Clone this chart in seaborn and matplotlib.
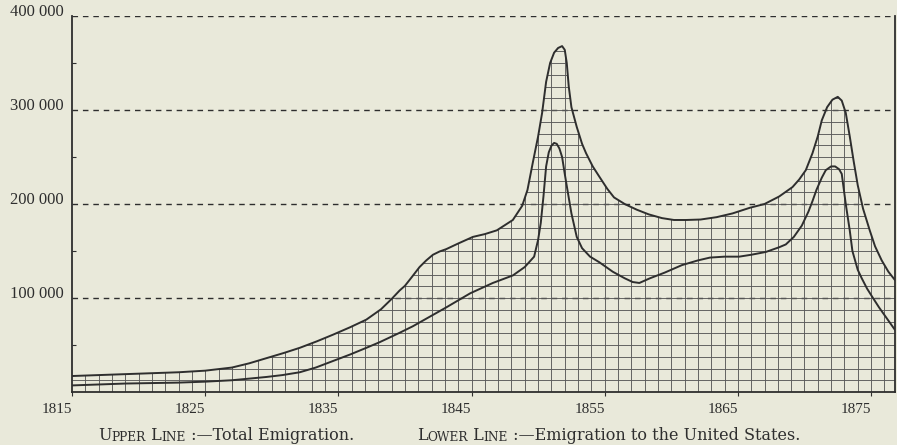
import numpy as np
import pandas as pd
import matplotlib
matplotlib.use("Agg")
import matplotlib.pyplot as plt
from matplotlib.patches import Polygon
import seaborn as sns

# ---- data -------------------------------------------------------------
total_years = [1815, 1817, 1819, 1821, 1823, 1825, 1827, 1828.3, 1829.6,
               1830.9, 1832.1, 1833.4, 1834.6, 1835.9, 1837.1, 1838.2,
               1839.0, 1839.6, 1840.0, 1840.5, 1841.1, 1841.6, 1842.1,
               1842.6, 1843.1, 1844.0, 1845.1, 1846.0, 1846.9, 1848.1,
               1848.8, 1849.2, 1849.6, 1850.0, 1850.3, 1850.6, 1850.9,
               1851.2, 1851.5, 1851.8, 1852.0, 1852.15, 1852.3, 1852.5,
               1852.9, 1853.3, 1853.6, 1854.1, 1854.6, 1855.2, 1855.7,
               1856.5, 1857.4, 1858.3, 1859.3, 1860.2, 1861.1, 1862.2,
               1863.4, 1864.6, 1865.9, 1867.0, 1868.1, 1869.1, 1869.6,
               1870.1, 1870.6, 1871.0, 1871.3, 1871.7, 1872.1, 1872.5,
               1872.8, 1873.1, 1873.4, 1873.7, 1874.0, 1874.4, 1874.9,
               1875.3, 1875.8, 1876.3, 1876.8]
total_emigration = [17000, 18000, 19000, 20000, 21000, 22700, 26000, 30500,
                    36000, 41500, 47000, 54000, 61000, 69000, 77000, 88000,
                    99000, 108000, 113000, 122000, 133000, 140000, 146000,
                    149500, 152000, 158000, 165000, 168000, 172000, 183000,
                    198000, 215000, 244000, 272000, 297000, 330000, 350000,
                    361000, 366000, 368000, 364000, 350000, 325000, 303000,
                    282000, 264000, 254000, 240000, 229000, 216000, 207000,
                    200000, 194000, 189000, 185000, 183000, 183000, 183500,
                    186000, 190000, 196000, 200000, 208000, 218000, 226000,
                    236000, 254000, 272000, 289000, 303000, 311000, 314000,
                    310000, 297000, 272000, 245000, 220000, 195000, 172000,
                    155000, 140000, 128000, 119000]

us_years = [1815, 1817, 1819, 1821, 1823, 1825, 1827, 1828.5, 1829.6, 1830.8,
            1832.1, 1833.3, 1834.6, 1835.9, 1837.1, 1838.1, 1839.6, 1840.6,
            1842.1, 1843.1, 1844.9, 1846.6, 1848.1, 1849.0, 1849.7, 1850.0,
            1850.2, 1850.4, 1850.6, 1850.8, 1851.0, 1851.2, 1851.4, 1851.6,
            1851.8, 1852.0, 1852.2, 1852.5, 1852.9, 1853.3, 1853.9, 1854.6,
            1855.6, 1856.5, 1857.1, 1857.6, 1858.4, 1859.5, 1860.8, 1862.0,
            1862.9, 1864.0, 1865.1, 1866.0, 1867.1, 1868.1, 1868.6, 1869.2,
            1869.8, 1870.3, 1870.6, 1870.9, 1871.3, 1871.6, 1872.0, 1872.3,
            1872.6, 1872.8, 1873.1, 1873.4, 1873.6, 1874.0, 1874.3, 1874.7,
            1875.1, 1875.6, 1876.1, 1876.8]
us_emigration = [7000, 8000, 9000, 9500, 10000, 11000, 12500, 14500, 16000,
                 18000, 21000, 26000, 33000, 40000, 47000, 53000, 63000,
                 70000, 82000, 90000, 105000, 116000, 124000, 133000,
                 144000, 162000, 180000, 208000, 240000, 255000, 262000,
                 265000, 264000, 259000, 250000, 232000, 215000, 190000,
                 165000, 153000, 144000, 138000, 128000, 121000, 117000,
                 116000, 121000, 127000, 135000, 140000, 143000, 144000,
                 144000, 146000, 149000, 154000, 157000, 165000, 177000,
                 192000, 203000, 215000, 228000, 236000, 240000, 240000,
                 237000, 232000, 200000, 172000, 150000, 130000, 121000,
                 110000, 101000, 90000, 80000, 66000]

x_ticks = [1815, 1825, 1835, 1845, 1855, 1865, 1875]
x_tick_labels = ["1815", "1825", "1835", "1845", "1855", "1865", "1875"]
y_ticks = [100000, 200000, 300000, 400000]
y_tick_labels = ["100 000", "200 000", "300 000", "400 000"]

# ---- style ------------------------------------------------------------
PAPER = "#e9e9da"
INK = "#2e2e2e"
sns.set_theme(style="ticks")
plt.rcParams["font.family"] = ["Liberation Serif", "DejaVu Serif"]

fig = plt.figure(figsize=(8.97, 4.45), dpi=100, facecolor=PAPER)
ax = fig.add_axes([0.0803, 0.1191, 0.9175, 0.8449])
ax.set_facecolor(PAPER)

X0, X1 = 1815, 1876.8
ax.set_xlim(X0, X1)
ax.set_ylim(0, 400000)

total_df = pd.DataFrame({"year": total_years, "emigrants": total_emigration})
us_df = pd.DataFrame({"year": us_years, "emigrants": us_emigration})

# region under the upper line, used to clip the ruled squares
verts = [(total_years[0], 0)] + list(zip(total_years, total_emigration)) + \
        [(total_years[-1], 0)]
region = Polygon(verts, closed=True, transform=ax.transData,
                 facecolor="none", edgecolor="none")
ax.add_patch(region)

# dashed reference lines
for yv in y_ticks:
    ax.axhline(yv, color=INK, lw=1.0, ls=(0, (4, 3.5)), zorder=1)

# ruled squares: one column per year, eight rows per hundred thousand
vl = ax.vlines(np.arange(1816, 1877), 0, 400000, color="#5a5a5a", lw=0.65,
               zorder=2)
hl = ax.hlines(np.arange(12500, 400000, 12500), X0, X1, color="#5a5a5a",
               lw=0.65, zorder=2)
vl.set_clip_path(region)
hl.set_clip_path(region)

sns.lineplot(data=total_df, x="year", y="emigrants", ax=ax, color=INK,
             lw=1.4, zorder=4)
sns.lineplot(data=us_df, x="year", y="emigrants", ax=ax, color=INK,
             lw=1.4, zorder=4)

ax.set_xlabel("")
ax.set_ylabel("")

# axes frame: open top (the dashed 400 000 line closes it)
ax.spines["top"].set_visible(False)
for side in ("left", "bottom", "right"):
    ax.spines[side].set_color(INK)
    ax.spines[side].set_linewidth(1.3)

ax.set_xticks(x_ticks)
ax.set_xticklabels(x_tick_labels, ha="right", color=INK, fontsize=11)
ax.tick_params(axis="x", direction="out", length=3, width=0.8, color=INK,
               pad=5)
ax.set_yticks(y_ticks)
ax.set_yticklabels(y_tick_labels, va="baseline", color=INK, fontsize=12)
ax.tick_params(axis="y", length=0, pad=6)
ax.set_yticks([50000, 150000, 250000, 350000], minor=True)
ax.tick_params(axis="y", which="minor", direction="in", length=3,
               width=0.8, color=INK)


def small_caps_line(x, y, parts):
    """Write a caption whose parts are (text, size) pairs set side by side."""
    last = None
    for text, size in parts:
        if last is None:
            last = fig.text(x, y, text, fontsize=size, color=INK,
                            family=["DejaVu Serif"], ha="left", va="bottom")
        else:
            last = ax.annotate(text, xy=(1, 0), xycoords=last, fontsize=size,
                               color=INK, family=["DejaVu Serif"],
                               ha="left", va="bottom",
                               annotation_clip=False)


big, small = 11.5, 8.8
y_cap = 1 - 444 / 445
small_caps_line(98 / 897, y_cap, [("U", big), ("PPER", small), (" L", big),
                                  ("INE", small),
                                  (" :\u2014Total Emigration.", big)])
small_caps_line(417 / 897, y_cap, [("L", big), ("OWER", small), (" L", big),
                                   ("INE", small),
                                   (" :\u2014Emigration to the United States.",
                                    big)])

fig.savefig("out.png", dpi=100, facecolor=PAPER)
